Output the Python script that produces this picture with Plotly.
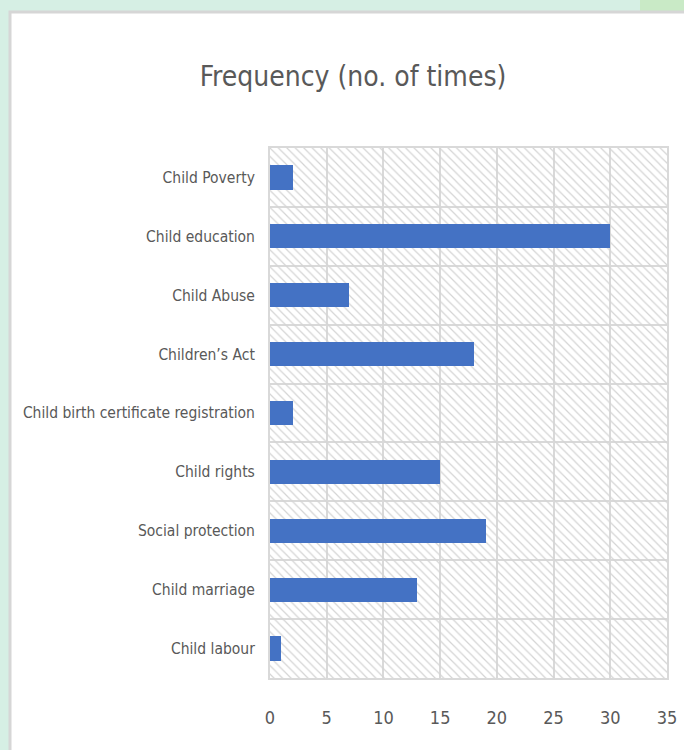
import plotly.graph_objects as go

categories = ["Child labour", "Child marriage", "Social protection", "Child rights",
              "Child birth certificate registration", "Children\u2019s Act", "Child Abuse",
              "Child education", "Child Poverty"]
values = [1, 13, 19, 15, 2, 18, 7, 30, 2]
x_ticks = [0, 5, 10, 15, 20, 25, 30, 35]
x_max = 35

W, H = 684, 750
ML, MR, MT, MB = 270, 17, 148, 72
pw, ph = W - ML - MR, H - MT - MB

FONT = "DejaVu Sans Condensed, Liberation Sans Narrow, sans-serif"
GRID = "#d9d9d9"
TXT = "#595959"

fig = go.Figure()
# hatched plot-area background, one band per category spanning the axis range
fig.add_trace(go.Bar(
    y=categories, x=[x_max] * len(categories), orientation="h", width=1,
    marker=dict(color="#d4d4d4", line=dict(width=0),
                pattern=dict(shape="\\", size=6, solidity=0.2, fillmode="replace")),
    hoverinfo="skip", showlegend=False))
fig.add_trace(go.Bar(
    y=categories, x=values, orientation="h", width=0.41,
    marker=dict(color="#4472c4", line=dict(width=0)),
    showlegend=False, name="Frequency"))

def px_x(p):
    return (p - ML) / pw

def px_y(p):
    return (H - MB - p) / ph

# lighter green patch at top right of the page backdrop
fig.add_shape(type="rect", xref="paper", yref="paper", layer="below",
              x0=px_x(640), x1=px_x(W + 20), y0=px_y(12), y1=px_y(-10),
              fillcolor="#c9eac6", line=dict(width=0))
# white card on mint page
fig.add_shape(type="rect", xref="paper", yref="paper", layer="below",
              x0=px_x(10), x1=px_x(W + 20), y0=px_y(H + 20), y1=px_y(12),
              fillcolor="white", line=dict(color="#d6d6d6", width=3))

fig.update_layout(
    width=W, height=H,
    margin=dict(l=ML, r=MR, t=MT, b=MB, autoexpand=False),
    paper_bgcolor="#d6efe4", plot_bgcolor="white",
    barmode="overlay", bargap=0,
    title=dict(text="Frequency (no. of times)", x=353 / W, xanchor="center",
               xref="container", y=1 - 76 / H, yanchor="middle", yref="container",
               font=dict(family=FONT, size=28, color=TXT), automargin=False),
    font=dict(family=FONT, color=TXT),
)
fig.update_xaxes(range=[0, x_max], tickvals=x_ticks, showgrid=True, gridcolor=GRID,
                 gridwidth=2, showline=True, mirror=True, linecolor=GRID, linewidth=2,
                 zeroline=False, ticks="", ticklabelstandoff=22, automargin=False,
                 tickfont=dict(family=FONT, size=18, color=TXT), fixedrange=True)
fig.update_yaxes(type="category", categoryorder="array", categoryarray=categories,
                 range=[-0.5, len(categories) - 0.5], tickson="boundaries",
                 showgrid=True, gridcolor=GRID, gridwidth=2, showline=True, mirror=True,
                 linecolor=GRID, linewidth=2, ticks="", ticklabelstandoff=10,
                 automargin=False,
                 tickfont=dict(family=FONT, size=15.5, color=TXT), fixedrange=True)

fig.write_html("out.html", config={"displayModeBar": False},
               post_script="document.body.style.margin='0px';"
                           "document.body.style.overflow='hidden';")
